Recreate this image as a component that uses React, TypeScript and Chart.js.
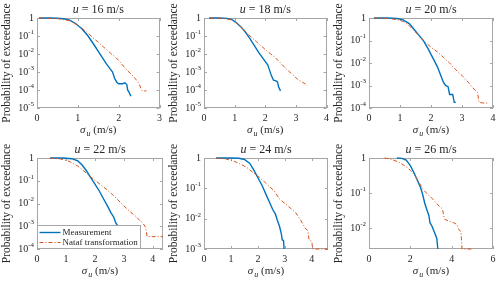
import React, { useEffect, useRef } from 'react';
import { Chart, registerables } from 'chart.js';

Chart.register(...registerables);

// ---------- data (sigma_u in m/s, probability of exceedance) ----------
const WIND_SPEEDS = ['16', '18', '20', '22', '24', '26'];
const SERIES_LABELS = ['Measurement', 'Nataf transformation'];

const P1_MEAS_X = [0.05, 0.3, 0.5, 0.65, 0.8, 0.95, 1.1, 1.25, 1.4, 1.5, 1.6, 1.7, 1.8, 1.85, 1.9, 1.95, 2.0, 2.1, 2.15, 2.2, 2.22, 2.25, 2.3];
const P1_MEAS_P = [1, 1, 0.977, 0.912, 0.759, 0.479, 0.251, 0.1, 0.0316, 0.0141, 0.0063, 0.0028, 0.0014, 0.001, 0.00045, 0.00028, 0.000224, 0.000224, 0.00025, 0.0002, 0.0001, 0.000079, 0.000045];
const P1_NATAF_X = [0.05, 0.5, 0.8, 1.0, 1.2, 1.4, 1.6, 1.8, 2.0, 2.2, 2.3, 2.4, 2.5, 2.55, 2.58, 2.68];
const P1_NATAF_P = [1, 0.933, 0.708, 0.398, 0.178, 0.0708, 0.0282, 0.0112, 0.0045, 0.00126, 0.00079, 0.00045, 0.000224, 0.000112, 0.000089, 0.000089];

const P2_MEAS_X = [0.17, 0.5, 0.75, 0.9, 1.05, 1.2, 1.35, 1.5, 1.65, 1.8, 1.95, 2.08, 2.15, 2.2, 2.27, 2.35, 2.4, 2.44, 2.5];
const P2_MEAS_P = [1, 1, 0.955, 0.832, 0.562, 0.331, 0.166, 0.0708, 0.0282, 0.0112, 0.005, 0.0025, 0.00112, 0.00063, 0.00035, 0.00032, 0.00028, 0.000141, 0.000089];
const P2_NATAF_X = [0.17, 0.6, 0.9, 1.1, 1.3, 1.45, 1.7, 1.9, 2.1, 2.3, 2.5, 2.7, 2.9, 3.05, 3.2, 3.3, 3.38];
const P2_NATAF_P = [1, 0.955, 0.794, 0.468, 0.224, 0.12, 0.0501, 0.0251, 0.0126, 0.0071, 0.00316, 0.0014, 0.00071, 0.0004, 0.00028, 0.000224, 0.000178];

const P3_MEAS_X = [0.16, 0.6, 0.9, 1.1, 1.3, 1.45, 1.6, 1.75, 1.9, 2.05, 2.2, 2.3, 2.4, 2.47, 2.55, 2.6, 2.7, 2.75, 2.8];
const P3_MEAS_P = [1, 1, 0.955, 0.832, 0.562, 0.316, 0.178, 0.1, 0.0447, 0.0178, 0.0071, 0.00316, 0.0014, 0.001, 0.00089, 0.0004, 0.0004, 0.000178, 0.000178];
const P3_NATAF_X = [0.16, 0.6, 0.9, 1.1, 1.3, 1.5, 1.65, 1.8, 2.0, 2.2, 2.4, 2.6, 2.8, 3.0, 3.2, 3.35, 3.45, 3.5, 3.55, 3.7, 3.82];
const P3_NATAF_P = [1, 0.955, 0.851, 0.708, 0.447, 0.24, 0.141, 0.0891, 0.0501, 0.0316, 0.0178, 0.01, 0.005, 0.0028, 0.0014, 0.00079, 0.00056, 0.0005, 0.000178, 0.000166, 0.000166];

const P4_MEAS_X = [0.45, 0.9, 1.2, 1.4, 1.55, 1.7, 1.85, 2.0, 2.15, 2.3, 2.45, 2.55, 2.65, 2.72, 2.8, 2.9, 3.0];
const P4_MEAS_P = [1, 1, 0.933, 0.759, 0.501, 0.282, 0.141, 0.0708, 0.0355, 0.0158, 0.0071, 0.004, 0.0025, 0.0014, 0.001, 0.0005, 0.00025];
const P4_NATAF_X = [0.45, 0.8, 1.1, 1.4, 1.6, 1.8, 2.0, 2.2, 2.4, 2.6, 2.8, 3.0, 3.2, 3.4, 3.55, 3.65, 3.75, 3.8, 3.9, 4.35];
const P4_NATAF_P = [1, 0.912, 0.724, 0.447, 0.282, 0.166, 0.105, 0.0661, 0.0417, 0.0251, 0.0141, 0.0079, 0.0045, 0.0028, 0.00178, 0.0014, 0.00089, 0.00035, 0.00035, 0.00035];

const P5_MEAS_X = [0.45, 1.0, 1.3, 1.5, 1.7, 1.85, 2.0, 2.15, 2.3, 2.45, 2.55, 2.65, 2.72, 2.8, 2.87, 2.9, 2.95, 2.97];
const P5_MEAS_P = [1, 1, 0.977, 0.891, 0.661, 0.398, 0.224, 0.126, 0.0631, 0.0316, 0.02, 0.0141, 0.0089, 0.0056, 0.00316, 0.002, 0.0019, 0.001];
const P5_NATAF_X = [0.45, 0.8, 1.1, 1.4, 1.6, 1.85, 2.0, 2.2, 2.4, 2.6, 2.8, 3.0, 3.2, 3.4, 3.55, 3.65, 3.75, 3.85, 3.9, 4.0, 4.03, 4.6];
const P5_NATAF_P = [1, 0.933, 0.794, 0.603, 0.479, 0.316, 0.251, 0.178, 0.12, 0.0832, 0.0447, 0.0316, 0.0224, 0.0158, 0.01, 0.0071, 0.005, 0.004, 0.002, 0.00178, 0.001, 0.001];

const P6_MEAS_X = [1.35, 1.6, 1.8, 2.0, 2.2, 2.35, 2.5, 2.6, 2.7, 2.8, 2.9, 2.95, 3.05, 3.15, 3.22, 3.28, 3.33];
const P6_MEAS_P = [1, 0.977, 0.871, 0.603, 0.355, 0.224, 0.141, 0.0891, 0.0501, 0.0331, 0.0224, 0.0141, 0.0112, 0.0079, 0.0063, 0.005, 0.0025];
const P6_NATAF_X = [0.75, 1.1, 1.45, 1.8, 2.0, 2.2, 2.4, 2.6, 2.8, 3.0, 3.2, 3.4, 3.55, 3.65, 3.85, 4.1, 4.25, 4.35, 4.45, 4.5, 4.98];
const P6_NATAF_P = [1, 0.912, 0.759, 0.562, 0.447, 0.331, 0.209, 0.132, 0.0955, 0.0759, 0.0562, 0.0417, 0.0355, 0.0178, 0.0158, 0.0141, 0.0126, 0.0089, 0.0079, 0.0025, 0.0025];

// axis ranges and ticks
const X_MAX = [3, 4, 4, 4.35, 4.6, 6];
const X_TICKS = [[0, 1, 2, 3], [0, 1, 2, 3, 4], [0, 1, 2, 3, 4], [0, 1, 2, 3, 4], [0, 1, 2, 3, 4], [0, 2, 4, 6]];
const Y_MIN = [1e-5, 1e-5, 1e-4, 1e-4, 1e-3, 0.0025];
const Y_TICK_EXP = [[0, -1, -2, -3, -4, -5], [0, -1, -2, -3, -4, -5], [0, -1, -2, -3, -4], [0, -1, -2, -3, -4], [0, -1, -2, -3], [0, -1, -2]];

const MEAS_X = [P1_MEAS_X, P2_MEAS_X, P3_MEAS_X, P4_MEAS_X, P5_MEAS_X, P6_MEAS_X];
const MEAS_P = [P1_MEAS_P, P2_MEAS_P, P3_MEAS_P, P4_MEAS_P, P5_MEAS_P, P6_MEAS_P];
const NATAF_X = [P1_NATAF_X, P2_NATAF_X, P3_NATAF_X, P4_NATAF_X, P5_NATAF_X, P6_NATAF_X];
const NATAF_P = [P1_NATAF_P, P2_NATAF_P, P3_NATAF_P, P4_NATAF_P, P5_NATAF_P, P6_NATAF_P];

// ---------- layout ----------
const FONT = "'Liberation Serif', 'Times New Roman', serif";
const TEXT = '#262626';
const AXIS = '#a6a6a6';
const BLUE = '#0072BD';
const ORANGE = '#D95319';

const CELL_L = [0, 166, 333];
const CELL_W = [166, 167, 167];
const CELL_T = [0, 142];
const CELL_H = [142, 143];
const PLOT_L = [37, 204, 369];
const PLOT_R = [163, 328, 493];
const PLOT_T = [18, 158];
const PLOT_B = [108, 249];

function makeDecorPlugin(idx: number) {
  return {
    id: 'decor' + idx,
    beforeDatasetsDraw(chart: any) {
      const ctx = chart.ctx as CanvasRenderingContext2D;
      const a = chart.chartArea;
      const ys = chart.scales.y;
      const xs = chart.scales.x;
      ctx.save();
      ctx.strokeStyle = AXIS;
      ctx.lineWidth = 1;
      ctx.strokeRect(Math.round(a.left) + 0.5, Math.round(a.top) + 0.5, Math.round(a.right - a.left) - 1, Math.round(a.bottom - a.top) - 1);
      ctx.beginPath();
      for (const t of xs.ticks) {
        const px = Math.round(xs.getPixelForValue(t.value)) + 0.5;
        ctx.moveTo(px, a.bottom); ctx.lineTo(px, a.bottom - 3);
        ctx.moveTo(px, a.top); ctx.lineTo(px, a.top + 3);
      }
      for (const t of ys.ticks) {
        const py = Math.round(ys.getPixelForValue(t.value)) + 0.5;
        ctx.moveTo(a.left, py); ctx.lineTo(a.left + 3, py);
        ctx.moveTo(a.right, py); ctx.lineTo(a.right - 3, py);
      }
      ctx.stroke();
      ctx.restore();
    },
    afterDraw(chart: any) {
      const ctx = chart.ctx as CanvasRenderingContext2D;
      const a = chart.chartArea;
      const ys = chart.scales.y;
      ctx.save();

      // y tick labels
      ctx.fillStyle = TEXT;
      ctx.textBaseline = 'middle';
      for (const e of Y_TICK_EXP[idx]) {
        const py = ys.getPixelForValue(Math.pow(10, e));
        const right = a.left - 3;
        if (e === 0) {
          ctx.font = `10px ${FONT}`;
          ctx.textAlign = 'right';
          ctx.fillText('1', right, py);
        } else {
          ctx.font = `7px ${FONT}`;
          const sup = String(e);
          const sw = ctx.measureText(sup).width;
          ctx.textAlign = 'left';
          ctx.fillText(sup, right - sw, py - 4);
          ctx.font = `10px ${FONT}`;
          ctx.textAlign = 'right';
          ctx.fillText('10', right - sw, py);
        }
      }

      // title: u = NN m/s
      const cx = (a.left + a.right) / 2;
      ctx.textAlign = 'left';
      ctx.textBaseline = 'middle';
      ctx.font = `italic 12px ${FONT}`;
      const uW = ctx.measureText('u').width;
      ctx.font = `12px ${FONT}`;
      const rest = ` = ${WIND_SPEEDS[idx]} m/s`;
      const rW = ctx.measureText(rest).width;
      let sx = cx - (uW + rW) / 2;
      const ty = a.top - 8;
      ctx.font = `italic 12px ${FONT}`;
      ctx.fillText('u', sx, ty);
      ctx.font = `12px ${FONT}`;
      ctx.fillText(rest, sx + uW, ty);

      // x label: sigma_u (m/s)
      const ly = a.bottom + 22;
      ctx.font = `italic 11px ${FONT}`;
      const sgW = ctx.measureText('σ').width;
      ctx.font = `italic 8px ${FONT}`;
      const subW = ctx.measureText('u').width;
      ctx.font = `11px ${FONT}`;
      const unit = ' (m/s)';
      const unW = ctx.measureText(unit).width;
      sx = cx - (sgW + subW + 1 + unW) / 2;
      ctx.font = `italic 11px ${FONT}`;
      ctx.fillText('σ', sx, ly);
      ctx.font = `italic 8px ${FONT}`;
      ctx.fillText('u', sx + sgW + 1, ly + 4);
      ctx.font = `11px ${FONT}`;
      ctx.fillText(unit, sx + sgW + subW + 1, ly);

      // y label
      ctx.save();
      ctx.translate(a.left - 30, (a.top + a.bottom) / 2);
      ctx.rotate(-Math.PI / 2);
      ctx.textAlign = 'center';
      ctx.font = `11.5px ${FONT}`;
      ctx.fillText('Probability of exceedance', 0, 0);
      ctx.restore();

      // legend (only in u = 22 panel)
      if (idx === 3) {
        ctx.font = `9px ${FONT}`;
        const tw = Math.max(
          ctx.measureText(chart.data.datasets[1].label).width,
          ctx.measureText(chart.data.datasets[0].label).width,
        );
        const bx = Math.round(a.left) + 0.5;
        const by = Math.round(a.bottom) - 23.5;
        const bw = Math.round(25 + tw + 3);
        const bh = 23;
        ctx.fillStyle = '#ffffff';
        ctx.fillRect(bx, by, bw, bh);
        ctx.strokeStyle = AXIS;
        ctx.lineWidth = 1;
        ctx.strokeRect(bx, by, bw, bh);
        const rows = [
          { label: chart.data.datasets[1].label, color: BLUE, dash: [] as number[], w: 1.4, y: by + 7 },
          { label: chart.data.datasets[0].label, color: ORANGE, dash: [4, 2, 1, 2], w: 1, y: by + 17 },
        ];
        for (const r of rows) {
          ctx.beginPath();
          ctx.strokeStyle = r.color;
          ctx.lineWidth = r.w;
          ctx.setLineDash(r.dash);
          ctx.moveTo(bx + 2, r.y);
          ctx.lineTo(bx + 23, r.y);
          ctx.stroke();
          ctx.setLineDash([]);
          ctx.fillStyle = TEXT;
          ctx.font = `9px ${FONT}`;
          ctx.textAlign = 'left';
          ctx.textBaseline = 'middle';
          ctx.fillText(r.label, bx + 25, r.y);
        }
      }
      ctx.restore();
    },
  };
}

function Panel({ idx }: { idx: number }) {
  const ref = useRef<HTMLCanvasElement | null>(null);
  const col = idx % 3;
  const row = Math.floor(idx / 3);
  const cl = CELL_L[col], cw = CELL_W[col], ct = CELL_T[row], ch = CELL_H[row];
  useEffect(() => {
    if (!ref.current) return;
    const leftW = PLOT_L[col] - cl;
    const bottomH = ct + ch - PLOT_B[row];
    const chart = new Chart(ref.current, {
      type: 'scatter',
      data: {
        datasets: [
          {
            label: SERIES_LABELS[1],
            data: NATAF_X[idx].map((x, i) => ({ x, y: NATAF_P[idx][i] })),
            borderColor: ORANGE,
            backgroundColor: ORANGE,
            borderWidth: 1,
            borderDash: [4, 2, 1, 2],
            showLine: true,
            pointRadius: 0,
            order: 0,
            clip: 2,
          },
          {
            label: SERIES_LABELS[0],
            data: MEAS_X[idx].map((x, i) => ({ x, y: MEAS_P[idx][i] })),
            borderColor: BLUE,
            backgroundColor: BLUE,
            borderWidth: 1.4,
            showLine: true,
            pointRadius: 0,
            order: 1,
            clip: 2,
          },
        ],
      },
      options: {
        animation: false,
        responsive: false,
        devicePixelRatio: 1,
        layout: { padding: { left: 0, top: PLOT_T[row] - ct, right: cl + cw - PLOT_R[col], bottom: 0 } },
        plugins: { legend: { display: false }, tooltip: { enabled: false }, title: { display: false } },
        scales: {
          x: {
            type: 'linear',
            min: 0,
            max: X_MAX[idx],
            grid: { display: false, drawTicks: false },
            border: { display: false },
            ticks: { font: { family: FONT, size: 10 }, color: TEXT, padding: 4, maxRotation: 0, autoSkip: false },
            afterBuildTicks: (s: any) => { s.ticks = X_TICKS[idx].map((v) => ({ value: v })); },
            afterFit: (s: any) => { s.height = bottomH; },
          },
          y: {
            type: 'logarithmic',
            min: Y_MIN[idx],
            max: 1,
            grid: { display: false, drawTicks: false },
            border: { display: false },
            ticks: { display: false },
            afterBuildTicks: (s: any) => { s.ticks = Y_TICK_EXP[idx].map((e) => ({ value: Math.pow(10, e) })); },
            afterFit: (s: any) => { s.width = leftW; },
          },
        },
      } as any,
      plugins: [makeDecorPlugin(idx)],
    });
    return () => chart.destroy();
  }, []);
  return (
    <canvas
      ref={ref}
      width={cw}
      height={ch}
      style={{ position: 'absolute', left: cl, top: ct, width: cw, height: ch }}
    />
  );
}

export default function App() {
  return (
    <div style={{ position: 'absolute', left: 0, top: 0, width: 500, height: 285, background: '#ffffff', overflow: 'hidden' }}>
      {[0, 1, 2, 3, 4, 5].map((i) => (
        <Panel key={i} idx={i} />
      ))}
    </div>
  );
}
